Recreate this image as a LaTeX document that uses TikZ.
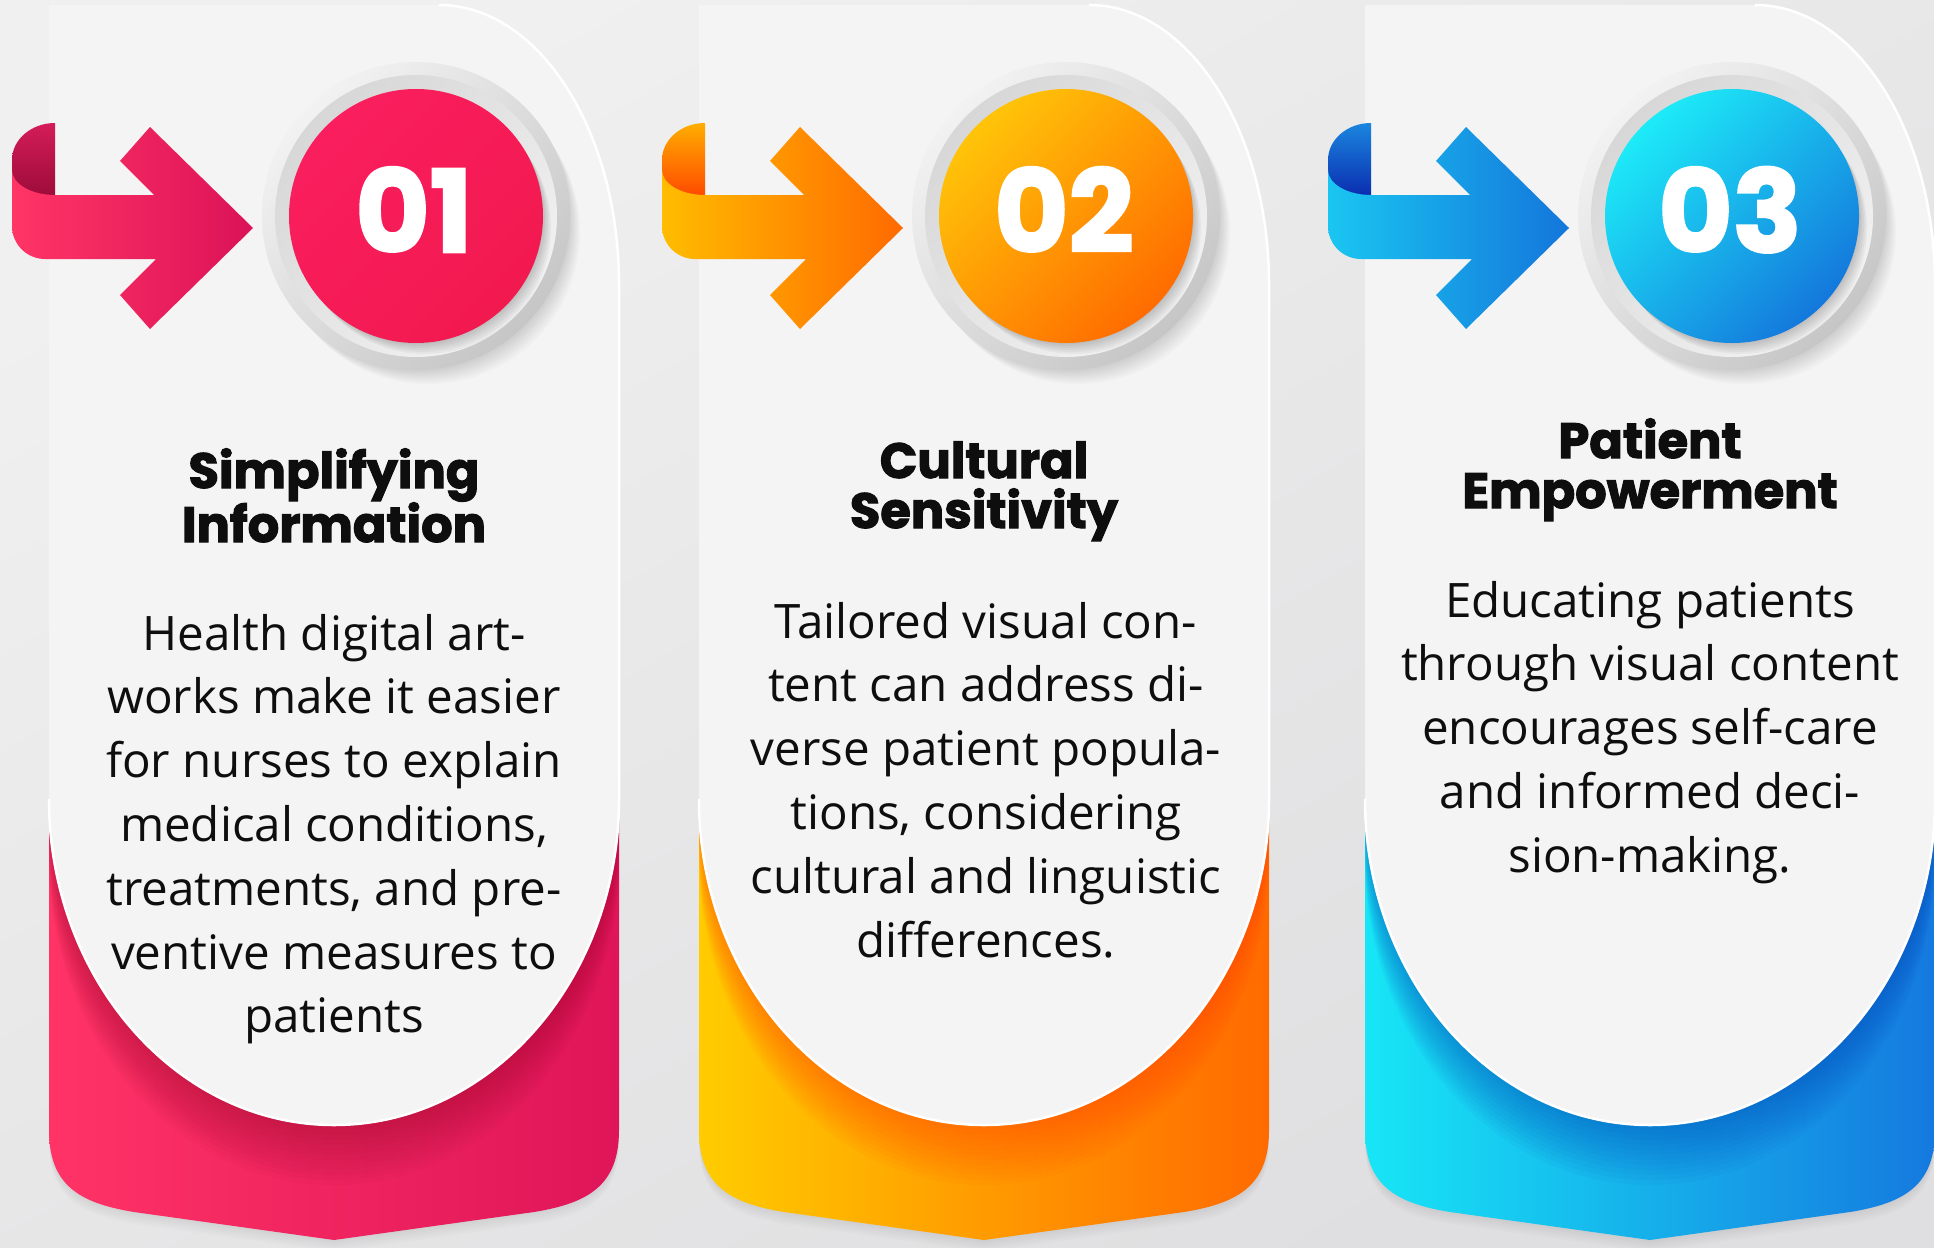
\documentclass[tikz,border=0pt]{standalone}
\usepackage{fontspec}
\setmainfont{Open Sans}
\newfontfamily\titlefont{Poppins}[FakeBold=2.2]
\usetikzlibrary{calc}

\definecolor{ink}{HTML}{0E0E0E}
\definecolor{cardc}{HTML}{F4F4F4}
\definecolor{bgA}{HTML}{F0F0F0}
\definecolor{bgB}{HTML}{DFDEE0}
\definecolor{ringA}{HTML}{F2F2F2}
\definecolor{ringB}{HTML}{C6C6C6}
% pink
\definecolor{pkL}{HTML}{FF3366}\definecolor{pkR}{HTML}{DF1559}\definecolor{pkS}{HTML}{9E0A30}
\definecolor{pkCA}{HTML}{FA1E5E}\definecolor{pkCB}{HTML}{F2194F}
\definecolor{pkAL}{HTML}{FF3566}\definecolor{pkAR}{HTML}{DC1259}
\definecolor{pkKT}{HTML}{D41C58}\definecolor{pkKB}{HTML}{9A0B38}
% orange
\definecolor{orL}{HTML}{FFCC00}\definecolor{orR}{HTML}{FF6A00}\definecolor{orS}{HTML}{FF3C00}
\definecolor{orCA}{HTML}{FFC409}\definecolor{orCB}{HTML}{FF6C00}
\definecolor{orAL}{HTML}{FFBC00}\definecolor{orAR}{HTML}{FF6A00}
\definecolor{orKT}{HTML}{FFAE00}\definecolor{orKB}{HTML}{FF4400}
% blue
\definecolor{blL}{HTML}{17E6F6}\definecolor{blR}{HTML}{1579DF}\definecolor{blS}{HTML}{0440B8}
\definecolor{blCA}{HTML}{1DEBF8}\definecolor{blCB}{HTML}{1478DC}
\definecolor{blAL}{HTML}{1AC6F1}\definecolor{blAR}{HTML}{1476DB}
\definecolor{blKT}{HTML}{1A86DE}\definecolor{blKB}{HTML}{0A28AE}

\def\cardpath{(0,5) -- (390,5) arc[start angle=-90,end angle=0,x radius=180,y radius=280] -- (570,799) arc[start angle=0,end angle=180,x radius=285,y radius=326] -- cycle}
\def\cardedge{(390,5) arc[start angle=-90,end angle=0,x radius=180,y radius=280] -- (570,799) arc[start angle=0,end angle=180,x radius=285,y radius=326]}
\def\bandpath{(0,700) -- (0,1130) .. controls (0,1185) and (30,1203) .. (85,1212) -- (285,1240) -- (485,1212) .. controls (540,1203) and (570,1185) .. (570,1130) -- (570,700) -- cycle}
\def\curlpath{(6,123) -- (6,200) -- (-37,200) -- (-37,160) arc[start angle=180,end angle=270,x radius=43,y radius=37] -- cycle}
\def\arrowpath{(-37,170) -- (-37,226) arc[start angle=180,end angle=90,radius=33] -- (107,259) -- (71,295) -- (101,329) -- (204,228) -- (101,127) -- (71,161) -- (105,195) -- (6,195) arc[start angle=90,end angle=180,x radius=43,y radius=25] -- cycle}

\tikzset{
  titletext/.style={font=\titlefont\bfseries\fontsize{49.5}{50}\selectfont, text=ink, inner sep=0pt, anchor=base},
  bodytext/.style={font=\fontsize{47.5}{64}\selectfont, text=ink, inner sep=0pt, anchor=base},
  numtext/.style={font=\titlefont\bfseries\fontsize{114}{114}\selectfont, text=white, inner sep=0pt, anchor=base}
}

\newcommand\panel[4]{%
\begin{scope}[shift={(#1,0)}]
  \foreach \k in {1,...,6}{\fill[black,opacity=0.012,shift={(0,2*\k)}] \bandpath;}
  \shade[left color=#3L,right color=#3R] \bandpath;
  \begin{scope}
    \clip \bandpath;
    \foreach \k in {1,...,12}{\fill[#3S,opacity=0.045,shift={(0,5*\k)}] \cardpath;}
  \end{scope}
  \fill[cardc] \cardpath;
  \draw[white,line width=2.5] \cardedge;
  \coordinate (c#2) at (367,216);
  \foreach \k in {1,...,8}{\fill[black,opacity=0.02] ($(c#2)+(1.5*\k,2*\k)$) circle[radius=152];}
  \shade[top color=ringA,bottom color=ringB,shading angle=45] (c#2) circle[radius=154];
  \shade[top color=ringB!70!white,bottom color=ringA,shading angle=45] (c#2) circle[radius=141];
  \foreach \k in {1,...,6}{\fill[black,opacity=0.035] ($(c#2)+(1.5*\k,2*\k)$) circle[radius=126];}
  \shade[top color=#3CA,bottom color=#3CB,shading angle=45] (c#2) circle[radius=127];
  \node[numtext] (n#2) at (365,252) {#4};
  \shade[top color=#3KT,bottom color=#3KB] \curlpath;
  \shade[left color=#3AL,right color=#3AR] \arrowpath;
\end{scope}}

\begin{document}
\begin{tikzpicture}[x=1pt,y=-1pt]
\useasboundingbox (0,0) rectangle (1934,1247);
\shade[top color=bgA,bottom color=bgB,shading angle=30] (0,0) rectangle (1934,1247);

\panel{49}{1}{pk}{01}
\panel{699}{2}{or}{02}
\panel{1365}{3}{bl}{03}

% titles
\foreach \t [count=\i from 0] in {Simplifying,Information}
  \node[titletext] (h1-\i) at (334,488+54*\i) {\t};
\foreach \t [count=\i from 0] in {Cultural,Sensitivity}
  \node[titletext] (h2-\i) at (984,478+50*\i) {\t};
\foreach \t [count=\i from 0] in {Patient,Empowerment}
  \node[titletext] (h3-\i) at (1650,458+50*\i) {\t};

% body texts
\foreach \t [count=\i from 0] in {{Health digital art-},{works make it easier},{for nurses to explain},{medical conditions,},{treatments, and pre-},{ventive measures to},{patients}}
  \node[bodytext] (p1-\i) at (334,650+63.8*\i) {\t};
\foreach \t [count=\i from 0] in {{Tailored visual con-},{tent can address di-},{verse patient popula-},{tions, considering},{cultural and linguistic},{differences.}}
  \node[bodytext] (p2-\i) at (986,638+63.8*\i) {\t};
\foreach \t [count=\i from 0] in {{Educating patients},{through visual content},{encourages self-care},{and informed deci-},{sion-making.}}
  \node[bodytext] (p3-\i) at (1650,617+63.8*\i) {\t};
\end{tikzpicture}
\end{document}
